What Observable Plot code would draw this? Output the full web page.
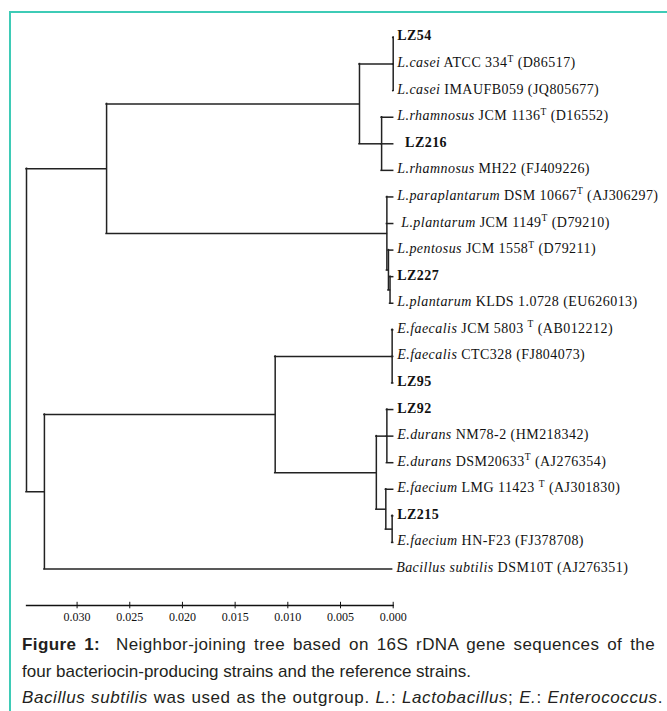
<!DOCTYPE html>
<html>
<head>
<meta charset="utf-8">
<script src="https://cdn.jsdelivr.net/npm/d3@7"></script>
<script src="https://cdn.jsdelivr.net/npm/@observablehq/plot@0.6"></script>
<style>
  html, body { margin: 0; padding: 0; background: #fff; overflow: hidden; width: 667px; height: 711px; }
  #frame { position: absolute; left: 9px; top: 11px; width: 720px; height: 760px; border-left: 2px solid #3ecbb6; border-top: 2px solid #3ecbb6; box-sizing: border-box; }
  #chart { position: absolute; left: 0; top: 0; }
  #caption { position: absolute; left: 22px; top: 632px; font-family: "Liberation Sans", Arial, sans-serif; font-size: 17px; line-height: 26.5px; color: #231f20; white-space: nowrap; }
  #caption .l1 { width: 633px; text-align: justify; text-align-last: justify; white-space: normal; letter-spacing: 0.4px; }
  #caption .l3 { width: 641px; text-align: justify; text-align-last: justify; white-space: normal; letter-spacing: 0.6px; }
</style>
</head>
<body>
<div id="frame"></div>
<div id="chart"></div>
<div id="caption">
  <div class="l1"><b>Figure 1:</b>&nbsp; Neighbor-joining tree based on 16S rDNA gene sequences of the</div>
  <div>four bacteriocin-producing strains and the reference strains.</div>
  <div class="l3"><i>Bacillus subtilis</i> was used as the outgroup. <i>L.</i>: <i>Lactobacillus</i>; <i>E.</i>: <i>Enterococcus</i>.</div>
</div>
<script>
// Leaf labels (markup: _italic_, **bold**, ^T superscript)
const leafLabels = [
  "**LZ54**",
  "_L.casei_ ATCC 334^T (D86517)",
  "_L.casei_ IMAUFB059 (JQ805677)",
  "_L.rhamnosus_ JCM 1136^T (D16552)",
  "\u00a0\u00a0**LZ216**",
  "_L.rhamnosus_ MH22 (FJ409226)",
  "_L.paraplantarum_ DSM 10667^T (AJ306297)",
  "\u00a0_L.plantarum_ JCM 1149^T (D79210)",
  "_L.pentosus_ JCM 1558^T (D79211)",
  "**LZ227**",
  "_L.plantarum_ KLDS 1.0728 (EU626013)",
  "_E.faecalis_ JCM 5803 ^T (AB012212)",
  "_E.faecalis_ CTC328 (FJ804073)",
  "**LZ95**",
  "**LZ92**",
  "_E.durans_ NM78-2 (HM218342)",
  "_E.durans_ DSM20633^T (AJ276354)",
  "_E.faecium_ LMG 11423 ^T (AJ301830)",
  "**LZ215**",
  "_E.faecium_ HN-F23 (FJ378708)",
  "_Bacillus subtilis_ DSM10T (AJ276351)"
];
// Tip heights (distance from the right edge)
const leafHeights = [0, 0, 0, 0, 0, 0, 0, 0, 0, 0, 0, 0, 0, 0, 0, 0, 0, 0, 0, 0, 0.0001];

// Internal nodes
const nodeIds = ["root", "A", "B", "C", "Lcas", "D", "E", "F", "G", "H", "I", "J", "K", "L", "M"];
const nodeHeights = [0.0348, 0.0272, 0.0331, 0.0032, 0.0000, 0.0011, 0.0006, 0.00045, 0.0003, 0.0112, 0.0001, 0.0016, 0.0006, 0.0007, 0.0001];
const nodeChildren = [
  ["A", "B"], ["C", "E"], ["H", 20], ["Lcas", "D"], [0, 1, 2], [3, 4, 5],
  [6, 7, "F"], [8, "G"], [9, 10], ["I", "J"], [11, 12, 13], ["K", "L"],
  [14, 15, 16], [17, "M"], [18, 19]
];

// Axis ticks
const distTicks = [0.030, 0.025, 0.020, 0.015, 0.010, 0.005, 0.000];

// ---- build the tree geometry from data ----
const nodeIndex = new Map(nodeIds.map((id, i) => [id, i]));
const yCache = new Map();
function heightOf(c) { return typeof c === "number" ? leafHeights[c] : nodeHeights[nodeIndex.get(c)]; }
function yOf(c) {
  if (typeof c === "number") return c;
  if (yCache.has(c)) return yCache.get(c);
  const kids = nodeChildren[nodeIndex.get(c)];
  const y = (yOf(kids[0]) + yOf(kids[kids.length - 1])) / 2;
  yCache.set(c, y);
  return y;
}
const verticals = nodeIds.map((id, i) => {
  const kids = nodeChildren[i];
  return {h: nodeHeights[i], y1: yOf(kids[0]), y2: yOf(kids[kids.length - 1])};
});
const horizontals = [];
nodeIds.forEach((id, i) => {
  for (const k of nodeChildren[i]) horizontals.push({y: yOf(k), x1: nodeHeights[i], x2: heightOf(k)});
});
const leaves = leafLabels.map((label, i) => ({label, h: leafHeights[i], y: i}));

const W = 667, H = 630;
const chart = Plot.plot({
  width: W,
  height: H,
  marginLeft: 26,
  marginRight: 274.3,
  marginTop: 20,
  marginBottom: 25,
  style: {fontFamily: "'Liberation Serif', 'Times New Roman', serif", background: "transparent", overflow: "visible"},
  x: {domain: [nodeHeights[0], 0], axis: null},
  y: {domain: [0, leafLabels.length - 1], range: [37, 568.5], axis: null},
  marks: [
    Plot.ruleX(verticals, {x: "h", y1: "y1", y2: "y2", stroke: "#222", strokeWidth: 1.5, strokeLinecap: "square"}),
    Plot.ruleY(horizontals, {y: "y", x1: "x1", x2: "x2", stroke: "#222", strokeWidth: 1.5, strokeLinecap: "square"}),
    Plot.text(leaves, {x: "h", y: "y", text: "label", textAnchor: "start", dx: 4, dy: -1.5, fontSize: 14, fill: "#111"}),
    Plot.frame({anchor: "bottom", stroke: "#111", strokeWidth: 1.3}),
    Plot.axisX({ticks: distTicks, tickFormat: d3.format(".3f"), tickSize: 6.5, tickPadding: 4, dy: -3.2, fontSize: 12, color: "#111", stroke: "#111"})
  ]
});
document.getElementById("chart").appendChild(chart);

// Rich text for leaf labels: italic, bold, superscript
d3.select(chart).selectAll('g[aria-label="text"] text').each(function() {
  const el = d3.select(this);
  const raw = this.textContent;
  el.text(null).attr("letter-spacing", "0.45px");
  const re = /(\*\*[^*]+\*\*|_[^_]+_|\^T)/g;
  let last = 0, m;
  const parts = [];
  while ((m = re.exec(raw)) !== null) {
    if (m.index > last) parts.push({t: raw.slice(last, m.index)});
    const s = m[0];
    if (s.startsWith("**")) parts.push({t: s.slice(2, -2), b: true});
    else if (s.startsWith("_")) parts.push({t: s.slice(1, -1), i: true});
    else parts.push({t: "T", sup: true});
    last = m.index + s.length;
  }
  if (last < raw.length) parts.push({t: raw.slice(last)});
  let pendingDown = false;
  for (const p of parts) {
    const ts = el.append("tspan").text(p.t);
    if (p.b) ts.attr("font-weight", "bold");
    if (p.i) ts.attr("font-style", "italic");
    if (p.sup) { ts.attr("dy", "-5.5").attr("font-size", "9.5px"); pendingDown = true; }
    else if (pendingDown) { ts.attr("dy", "5.5"); pendingDown = false; }
  }
});
</script>
</body>
</html>
